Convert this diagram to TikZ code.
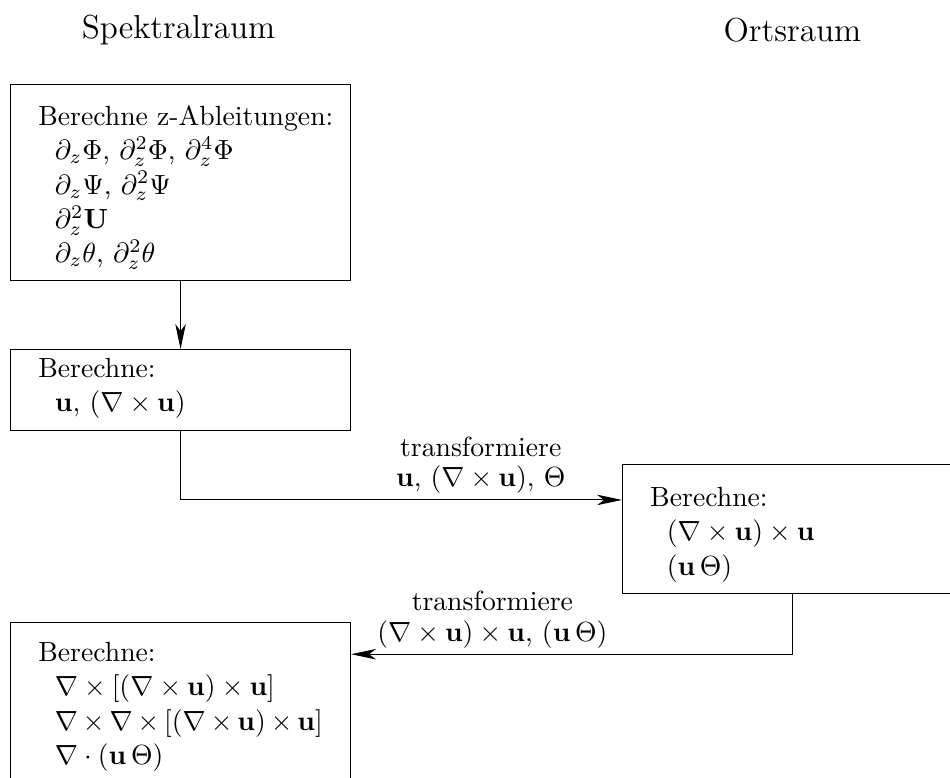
\documentclass[tikz,border=0pt]{standalone}
\usepackage{amsmath,amssymb}
\usepackage{tikz}
\usetikzlibrary{arrows.meta,calc,positioning}
\newcommand{\ind}{\hspace*{6pt}}

\begin{document}
\begin{tikzpicture}[>={Stealth[length=9pt,width=3.8pt,inset=2.5pt]},
  line cap=round,
  rechenbox/.style={draw,anchor=north west,align=left,
    font=\linespread{1.03}\selectfont,
    text width=3.611cm,inner xsep=10pt,inner ysep=0pt},
  head/.style={inner sep=0pt,font=\large},
  trafo/.style={align=center,inner sep=2pt}]
\path[use as bounding box] (0,0) rectangle (12.054,-9.871);

\node[head] (spek) at (2.265,-0.381) {Spektralraum};
\node[head] (orts) at (10.055,-0.381) {Ortsraum};

% Spektralraum: Ableitungen und Geschwindigkeit
\node[rechenbox,text height=14.8pt,text depth=56pt] (abl) at (0.127,-1.066)
  {\mbox{Berechne z-Ableitungen:}\\
   \ind$\partial_z\Phi$, $\partial_z^2\Phi$, $\partial_z^4\Phi$\\
   \ind$\partial_z\Psi$, $\partial_z^2\Psi$\\
   \ind$\partial_z^2\mathbf{U}$\\
   \ind$\partial_z\theta$, $\partial_z^2\theta$};
\node[rechenbox,text height=10.1pt,text depth=19.1pt] (vel) at (0.127,-4.428)
  {Berechne:\\
   \ind$\mathbf{u}$, $(\nabla\times\mathbf{u})$};

% Ortsraum: nichtlineare Terme
\node[rechenbox,text height=15.2pt,text depth=31.4pt] (nl) at (7.892,-5.887)
  {Berechne:\\
   \ind$(\nabla\times\mathbf{u})\times\mathbf{u}$\\
   \ind$(\mathbf{u}\,\Theta)$};

% zurueck im Spektralraum
\node[rechenbox,text height=14.1pt,text depth=45pt] (rot) at (0.127,-7.892)
  {Berechne:\\
   \ind$\nabla\times[(\nabla\times\mathbf{u})\times\mathbf{u}]$\\
   \ind$\nabla\times\nabla\times[(\nabla\times\mathbf{u})\times\mathbf{u}]$\\
   \ind$\nabla\cdot(\mathbf{u}\,\Theta)$};

\coordinate (hin) at ($(vel.south)+(0,-0.875)$);
\coordinate (rueck) at ($(nl.south)+(0,-0.762)$);

\draw[->] (abl.south) -- (vel.north);
\draw[->] (vel.south) -- (hin) -- (hin -| nl.west)
  node[trafo,pos=0.68,above] {transformiere\\[-1pt]
    $\mathbf{u}$, $(\nabla\times\mathbf{u})$, $\Theta$};
\draw[->] (nl.south) -- (rueck) -- (rueck -| rot.east)
  node[trafo,pos=0.68,above] {transformiere\\[-1pt]
    $(\nabla\times\mathbf{u})\times\mathbf{u}$, $(\mathbf{u}\,\Theta)$};
\end{tikzpicture}
\end{document}
